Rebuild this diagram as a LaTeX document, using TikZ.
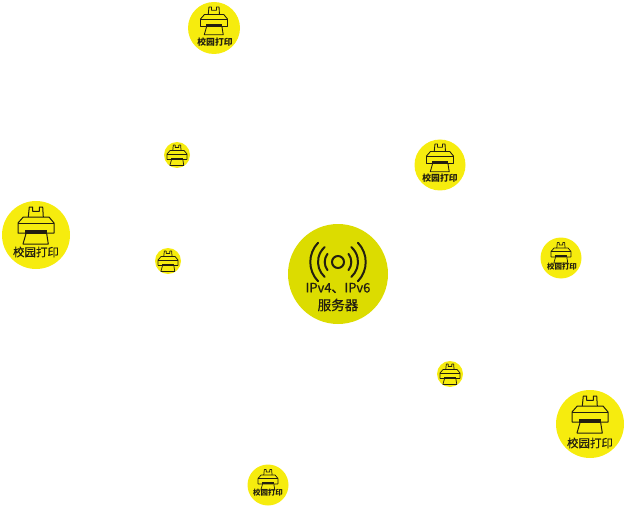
\documentclass[tikz,border=0pt]{standalone}
\usepackage{fontspec}
\setmainfont{Noto Sans CJK SC}
\newfontfamily\heavierfont[FakeBold=0.5]{Noto Sans CJK SC}
\definecolor{printyellow}{HTML}{F6EC0E}
\definecolor{serveryellow}{HTML}{DCDC00}
\definecolor{icondark}{HTML}{231F10}
\tikzset{
  spot/.style={circle,draw=none,fill=printyellow,inner sep=0pt,minimum size=#1},
  hub/.style={circle,draw=none,fill=serveryellow,inner sep=0pt,minimum size=100*0.75pt},
  caption/.style={text=icondark,inner sep=0pt,align=center,font=\fontsize{#1}{#1}\selectfont},
  wave/.style={icondark,line width=1.5pt,line cap=round},
  printer/.pic={
    % drawn for the largest circle, around its centre
    \draw[icondark,line join=round]
      (-7.7,-18) -- (-6.7,-28) -- (-3.3,-28) -- (-3.3,-23.7) -- (3.3,-23.7) -- (3.3,-28) -- (6.7,-28) -- (7.3,-18);
    \draw[icondark,line join=round]
      (-12.7,-18) -- (13,-18) -- (18,-12) -- (18,-2) -- (-18,-2) -- (-18,-12) -- cycle;
    \draw[icondark] (-18,-12) -- (18,-12);
    \fill[icondark] (-11,-5.3) rectangle (10.7,-1.3);
    \draw[icondark,line join=round]
      (-10,-1.3) -- (-13,9) -- (12.3,9) -- (10.7,-1.3);
  }
}
\begin{document}
\begin{tikzpicture}[x=0.75pt,y=-0.75pt]
\useasboundingbox (0,0) rectangle (628,506);
% server in the middle
\node[hub] (server) at (338,274) {};
\begin{scope}[shift={(338,262)}]
  \draw[wave] (0,0) circle (6);
  \draw[wave] (38:13.3) arc[start angle=38,end angle=-38,radius=13.3];
  \draw[wave] (142:13.3) arc[start angle=142,end angle=218,radius=13.3];
  \draw[wave] (48:20) arc[start angle=48,end angle=-48,radius=20];
  \draw[wave] (132:20) arc[start angle=132,end angle=228,radius=20];
  \draw[wave] (44:27.7) arc[start angle=44,end angle=-44,radius=27.7];
  \draw[wave] (136:27.7) arc[start angle=136,end angle=224,radius=27.7];
\end{scope}
\node[caption=9.7] (serverlabel) at (338,288) {\heavierfont IPv4、IPv6};
\node[caption=10.2] (servername) at (338,305) {\heavierfont 服务器};
% large printers
\node[spot=68*0.75pt] (printerA) at (36,235) {};
\pic[line width=0.75pt] at (36,235) {printer};
\node[caption=8.6] (printerAlabel) at (36,252) {\heavierfont 校园打印};
\node[spot=68*0.75pt] (printerB) at (590,424) {};
\pic[line width=0.75pt] at (590,424) {printer};
\node[caption=8.6] (printerBlabel) at (590,443) {\heavierfont 校园打印};
% medium printers
\node[spot=52*0.75pt] (printerC) at (214,28) {};
\pic[scale=0.75,line width=0.65pt] at (214,28) {printer};
\node[caption=6.6] (printerClabel) at (215,42) {\bfseries 校园打印};
\node[spot=51*0.75pt] (printerD) at (440,165) {};
\pic[scale=0.75,line width=0.65pt] at (440,165) {printer};
\node[caption=6.6] (printerDlabel) at (440,178) {\bfseries 校园打印};
% small printers
\node[spot=41*0.75pt] (printerE) at (561,258) {};
\pic[scale=0.55,line width=0.55pt] at (561,258) {printer};
\node[caption=5.6] (printerElabel) at (562,267) {\bfseries 校园打印};
\node[spot=41*0.75pt] (printerF) at (268,485) {};
\pic[scale=0.55,line width=0.55pt] at (268,485) {printer};
\node[caption=5.6] (printerFlabel) at (268,493) {\bfseries 校园打印};
% tiny ones, no text
\node[spot=26*0.75pt] (printerG) at (177,155) {};
\pic[scale=0.55,line width=0.55pt] at (177,160.5) {printer};
\node[spot=26*0.75pt] (printerH) at (168,261) {};
\pic[scale=0.55,line width=0.55pt] at (168,266.5) {printer};
\node[spot=26*0.75pt] (printerI) at (450,374) {};
\pic[scale=0.55,line width=0.55pt] at (450,379.5) {printer};
\end{tikzpicture}
\end{document}
